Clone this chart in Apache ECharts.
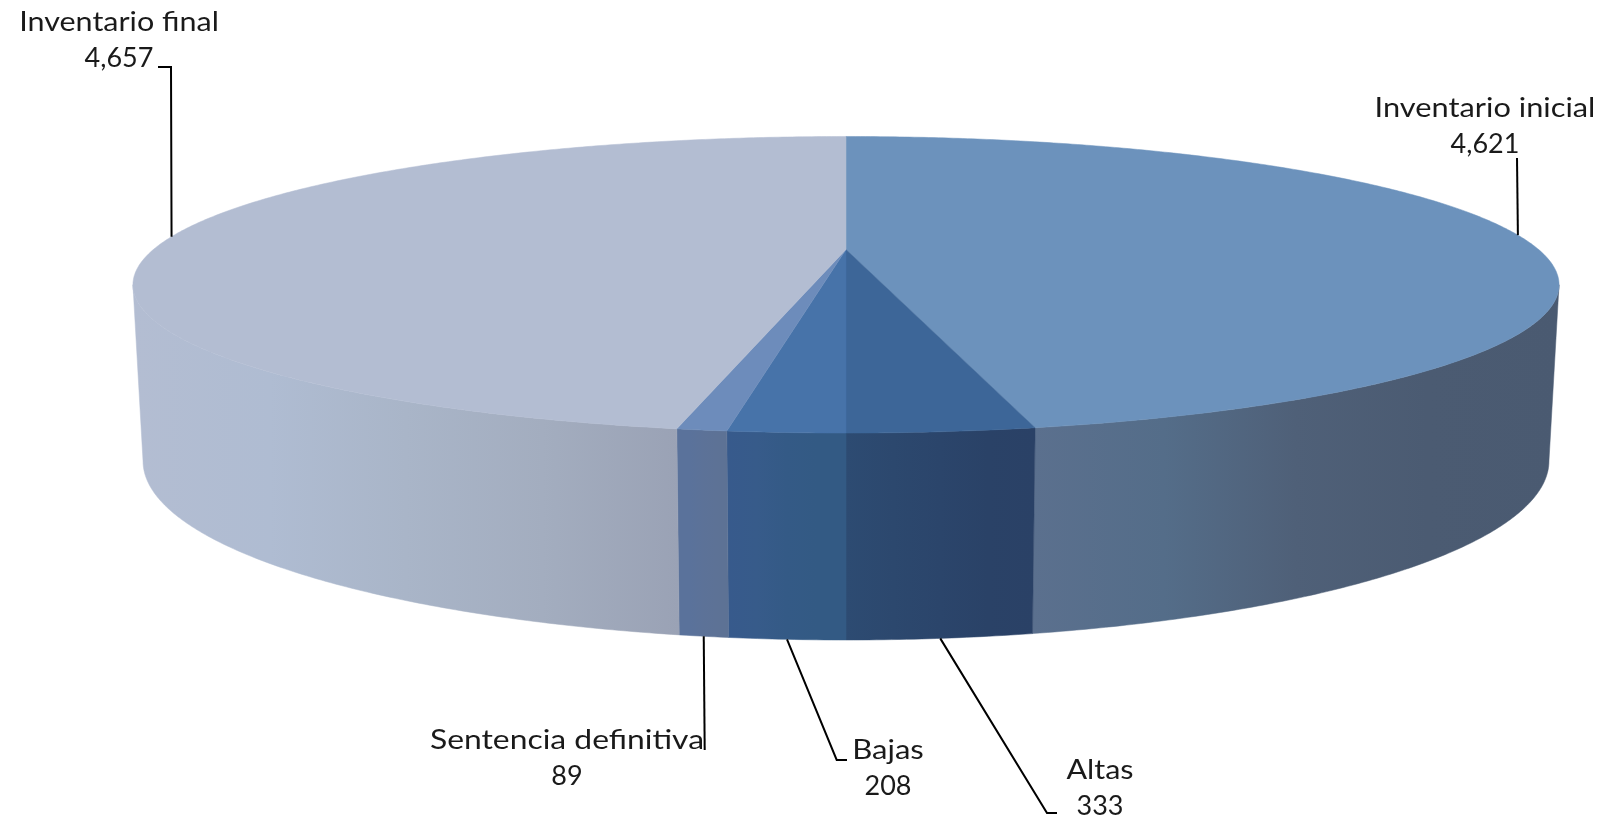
<!DOCTYPE html>
<html>
<head>
<meta charset="utf-8">
<style>html,body{margin:0;padding:0;background:#fff}#chart{width:1603px;height:817px}</style>
<script src="https://cdn.jsdelivr.net/npm/echarts@6/dist/echarts.min.js"></script>
</head>
<body>
<div id="chart"></div>
<script>
// --- data ---
const categories = ['Inventario inicial', 'Altas', 'Bajas', 'Sentencia definitiva', 'Inventario final'];
const values = [4621, 333, 208, 89, 4657];
const valueLabels = ['4,621', '333', '208', '89', '4,657'];

// --- styles ---
const topColors = ['#6c92bc', '#3d6698', '#4773a9', '#6d8cbb', '#b3bdd2'];
const sideStops = [
  ['#5b708e', '#546d89', '#4f6078', '#4b5b72', '#4a5a71'],
  ['#2d4b72', '#2c486e', '#2b456b', '#2a4267', '#2a4166'],
  ['#375a8c', '#375b8a', '#345a86', '#335a84', '#335a84'],
  ['#5a729b', '#5a729b', '#5c7298', '#5d7296', '#5d7294'],
  ['#b3bdd2', '#afbcd2', '#a9b5c8', '#a3adbf', '#9aa2b5']
];
const labelFont = '400 27px Lato, "Open Sans", sans-serif';
const nameStretch = [1.14, 1.13, 1.15, 1.18, 1.13];

// --- projected geometry of the two discs ---
const cx = 846;
const topDisc = { a: 692.6, b: 139.9, k: -0.2378, cy: 249.5 };
const baseDisc = { a: 682.8, b: 168.9, k: -0.2378, cy: 418.4 };
// the wall is visible between the two widest points of the disc
const widestAngle = Math.acos(topDisc.k) * 180 / Math.PI;

// --- label layout ---
const labelCentres = [[1485, 108], [1100, 770], [888, 750], [567, 740], [119, 22]];
const valueLineGap = 36;
const leaderDisc = [topDisc, baseDisc, baseDisc, baseDisc, topDisc];
const leaderElbows = [
  [[1517, 158]],
  [[1047, 813], [1057, 813]],
  [[836.7, 760], [847, 760]],
  [[704.7, 750]],
  [[171, 67], [158, 67]]
];

const total = values.reduce((s, v) => s + v, 0);
function proj(d, deg) {
  const t = deg * Math.PI / 180, near = -Math.cos(t), w = 1 + d.k * near;
  return [cx + d.a * Math.sin(t) / w, d.cy + d.b * near / w];
}
function arc(d, from, to) {
  const pts = [], n = Math.max(2, Math.ceil(Math.abs(to - from) * 2));
  for (let i = 0; i <= n; i++) pts.push(proj(d, from + (to - from) * i / n));
  return pts;
}
function range(idx) {
  let s = 0;
  for (let i = 0; i < idx; i++) s += values[i];
  return [s / total * 360, (s + values[idx]) / total * 360];
}
function gradient(stops, x0, x1) {
  return {
    type: 'linear', x: x0, y: 0, x2: x1, y2: 0, global: true,
    colorStops: stops.map((c, i) => ({ offset: i / (stops.length - 1), color: c }))
  };
}
const data = categories.map((name, i) => ({ name, value: values[i] }));

const chart = echarts.init(document.getElementById('chart'), null, { renderer: 'canvas' });
chart.setOption({
  animation: false,
  backgroundColor: '#ffffff',
  tooltip: { show: false },
  series: [
    {
      type: 'custom', name: 'wall', coordinateSystem: 'none', z: 1, silent: true, data,
      renderItem(params) {
        const i = params.dataIndex;
        const [a0, a1] = range(i);
        const from = Math.max(a0, widestAngle), to = Math.min(a1, 360 - widestAngle);
        const pts = arc(topDisc, from, to).concat(arc(baseDisc, to, from));
        const xs = pts.map(p => p[0]);
        const fill = gradient(sideStops[i], Math.min(...xs), Math.max(...xs));
        return { type: 'polygon', shape: { points: pts }, style: { fill, stroke: fill, lineWidth: 0.5 } };
      }
    },
    {
      type: 'custom', name: 'top', coordinateSystem: 'none', z: 2, silent: true, data,
      renderItem(params) {
        const i = params.dataIndex;
        const [a0, a1] = range(i);
        const pts = [[cx, topDisc.cy]].concat(arc(topDisc, a0, a1));
        return { type: 'polygon', shape: { points: pts }, style: { fill: topColors[i], stroke: topColors[i], lineWidth: 0.5 } };
      }
    },
    {
      type: 'custom', name: 'labels', coordinateSystem: 'none', z: 3, silent: true, data,
      renderItem(params) {
        const i = params.dataIndex;
        const [a0, a1] = range(i);
        const anchor = proj(leaderDisc[i], (a0 + a1) / 2);
        const [lx, ly] = labelCentres[i];
        return {
          type: 'group',
          children: [
            { type: 'polyline', shape: { points: [anchor].concat(leaderElbows[i]) },
              style: { fill: 'none', stroke: '#000000', lineWidth: 2 } },
            { type: 'text', x: lx, y: ly, scaleX: nameStretch[i],
              style: { x: 0, y: 0, text: categories[i], fill: '#1a1a1a', font: labelFont, textAlign: 'center', textVerticalAlign: 'middle' } },
            { type: 'text', x: lx, y: ly + valueLineGap,
              style: { x: 0, y: 0, text: valueLabels[i], fill: '#1a1a1a', font: labelFont, textAlign: 'center', textVerticalAlign: 'middle' } }
          ]
        };
      }
    }
  ]
});
</script>
</body>
</html>
